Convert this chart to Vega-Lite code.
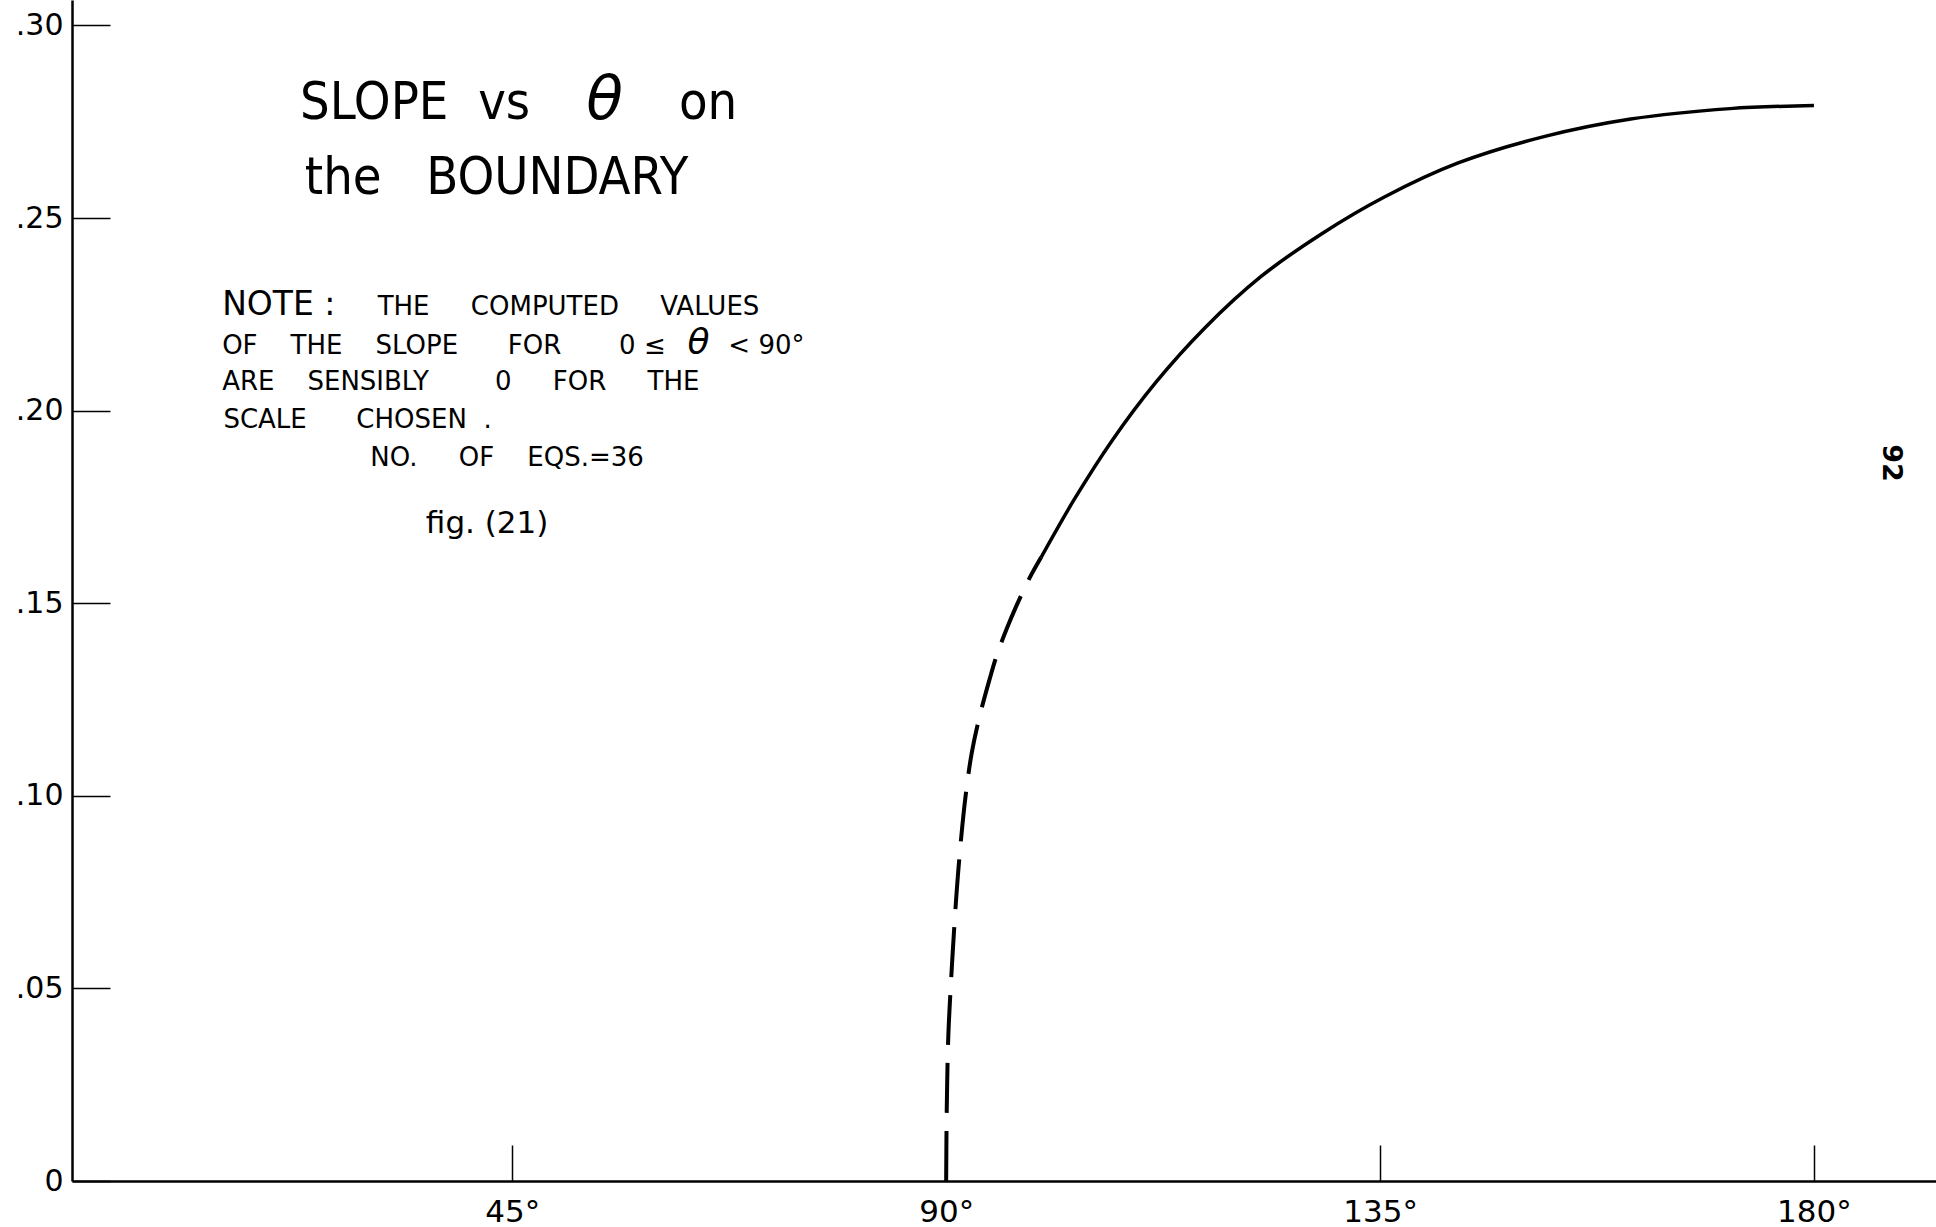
{
  "$schema": "https://vega.github.io/schema/vega-lite/v6.json",
  "width": 1864,
  "height": 1181,
  "autosize": "none",
  "padding": {"left": 72, "top": 0, "right": 0, "bottom": 46},
  "background": "white",
  "config": {
    "view": {"stroke": null},
    "font": "DejaVu Sans",
    "text": {"color": "black", "font": "DejaVu Sans", "align": "left", "baseline": "alphabetic"}
  },
  "datasets": {
    "curve": [
      {"theta": 90.0, "slope": 0.0, "part": "dashed"},
      {"theta": 90.06, "slope": 0.0181, "part": "dashed"},
      {"theta": 90.22, "slope": 0.0373, "part": "dashed"},
      {"theta": 90.47, "slope": 0.0502, "part": "dashed"},
      {"theta": 90.77, "slope": 0.063, "part": "dashed"},
      {"theta": 91.11, "slope": 0.0758, "part": "dashed"},
      {"theta": 91.54, "slope": 0.0886, "part": "dashed"},
      {"theta": 92.01, "slope": 0.0998, "part": "dashed"},
      {"theta": 92.65, "slope": 0.1111, "part": "dashed"},
      {"theta": 93.48, "slope": 0.1207, "part": "dashed"},
      {"theta": 94.51, "slope": 0.1303, "part": "dashed"},
      {"theta": 95.28, "slope": 0.1367, "part": "dashed"},
      {"theta": 96.24, "slope": 0.1431, "part": "dashed"},
      {"theta": 97.32, "slope": 0.1495, "part": "dashed"},
      {"theta": 98.54, "slope": 0.156, "part": "dashed"},
      {"theta": 99.85, "slope": 0.1619, "part": "dashed"},
      {"theta": 99.85, "slope": 0.1619, "part": "solid"},
      {"theta": 103.3, "slope": 0.177, "part": "solid"},
      {"theta": 107.2, "slope": 0.1922, "part": "solid"},
      {"theta": 111.7, "slope": 0.2072, "part": "solid"},
      {"theta": 116.8, "slope": 0.2214, "part": "solid"},
      {"theta": 122.6, "slope": 0.2347, "part": "solid"},
      {"theta": 129.0, "slope": 0.246, "part": "solid"},
      {"theta": 135.4, "slope": 0.2554, "part": "solid"},
      {"theta": 143.1, "slope": 0.2643, "part": "solid"},
      {"theta": 152.1, "slope": 0.2712, "part": "solid"},
      {"theta": 161.0, "slope": 0.2757, "part": "solid"},
      {"theta": 171.3, "slope": 0.2784, "part": "solid"},
      {"theta": 180.0, "slope": 0.2792, "part": "solid"}
    ]
  },
  "layer": [
    {
      "data": {"name": "curve"},
      "transform": [{"filter": "datum.part == 'dashed'"}],
      "mark": {"type": "line", "color": "black", "strokeWidth": 4, "strokeDash": [50, 18], "interpolate": "catmull-rom"},
      "encoding": {
        "x": {
          "field": "theta", "type": "quantitative",
          "scale": {"domain": [-0.66, 192.66], "nice": false, "zero": false},
          "axis": {
            "title": null, "grid": false,
            "values": [45, 90, 135, 180],
            "labelExpr": "datum.value + '°'",
            "domainColor": "black", "domainWidth": 2.5,
            "tickColor": "black", "tickWidth": 1.5, "tickSize": -36,
            "labelColor": "black", "labelFontSize": 31, "labelPadding": 52,
            "labelFont": "DejaVu Sans"
          }
        },
        "y": {
          "field": "slope", "type": "quantitative",
          "scale": {"domain": [0, 0.3066], "nice": false, "zero": false},
          "axis": {
            "title": null, "grid": false,
            "values": [0, 0.05, 0.1, 0.15, 0.2, 0.25, 0.3],
            "labelExpr": "datum.value == 0 ? '0' : replace(format(datum.value, '.2f'), '0.', '.')",
            "domainColor": "black", "domainWidth": 2.5,
            "tickColor": "black", "tickWidth": 1.5, "tickSize": -38,
            "labelColor": "black", "labelFontSize": 30, "labelPadding": 47,
            "labelFont": "DejaVu Sans"
          }
        }
      }
    },
    {
      "data": {"name": "curve"},
      "transform": [{"filter": "datum.part == 'solid'"}],
      "mark": {"type": "line", "color": "black", "strokeWidth": 3.5, "interpolate": "catmull-rom"},
      "encoding": {
        "x": {"field": "theta", "type": "quantitative"},
        "y": {"field": "slope", "type": "quantitative"}
      }
    },
    {
      "data": {"values": [{}]},
      "mark": {"type": "text", "text": "SLOPE\u00a0\u00a0vs", "font": "Liberation Sans Narrow, DejaVu Sans Condensed, DejaVu Sans", "fontSize": 52},
      "encoding": {"x": {"datum": 22.98, "type": "quantitative"}, "y": {"datum": 0.2758, "type": "quantitative"}}
    },
    {
      "data": {"values": [{}]},
      "mark": {"type": "text", "text": "θ", "fontStyle": "italic", "fontSize": 60},
      "encoding": {"x": {"datum": 52.68, "type": "quantitative"}, "y": {"datum": 0.2758, "type": "quantitative"}}
    },
    {
      "data": {"values": [{}]},
      "mark": {"type": "text", "text": "on", "font": "Liberation Sans Narrow, DejaVu Sans Condensed, DejaVu Sans", "fontSize": 52},
      "encoding": {"x": {"datum": 62.29, "type": "quantitative"}, "y": {"datum": 0.2758, "type": "quantitative"}}
    },
    {
      "data": {"values": [{}]},
      "mark": {"type": "text", "text": "the\u00a0\u00a0\u00a0BOUNDARY", "font": "Liberation Sans Narrow, DejaVu Sans Condensed, DejaVu Sans", "fontSize": 52},
      "encoding": {"x": {"datum": 23.49, "type": "quantitative"}, "y": {"datum": 0.2563, "type": "quantitative"}}
    },
    {
      "data": {"values": [{}]},
      "mark": {"type": "text", "text": "NOTE\u00a0:", "fontSize": 33},
      "encoding": {"x": {"datum": 14.91, "type": "quantitative"}, "y": {"datum": 0.2248, "type": "quantitative"}}
    },
    {
      "data": {"values": [{}]},
      "mark": {"type": "text", "text": "THE\u00a0\u00a0\u00a0\u00a0\u00a0COMPUTED\u00a0\u00a0\u00a0\u00a0\u00a0VALUES", "fontSize": 26},
      "encoding": {"x": {"datum": 31.04, "type": "quantitative"}, "y": {"datum": 0.2248, "type": "quantitative"}}
    },
    {
      "data": {"values": [{}]},
      "mark": {"type": "text", "text": "OF\u00a0\u00a0\u00a0\u00a0THE\u00a0\u00a0\u00a0\u00a0SLOPE\u00a0\u00a0\u00a0\u00a0\u00a0\u00a0FOR\u00a0\u00a0\u00a0\u00a0\u00a0\u00a0\u00a00\u00a0≤", "fontSize": 26},
      "encoding": {"x": {"datum": 14.91, "type": "quantitative"}, "y": {"datum": 0.2146, "type": "quantitative"}}
    },
    {
      "data": {"values": [{}]},
      "mark": {"type": "text", "text": "θ", "fontStyle": "italic", "fontSize": 36},
      "encoding": {"x": {"datum": 63.18, "type": "quantitative"}, "y": {"datum": 0.2146, "type": "quantitative"}}
    },
    {
      "data": {"values": [{}]},
      "mark": {"type": "text", "text": "<\u00a090°", "fontSize": 26},
      "encoding": {"x": {"datum": 67.41, "type": "quantitative"}, "y": {"datum": 0.2146, "type": "quantitative"}}
    },
    {
      "data": {"values": [{}]},
      "mark": {"type": "text", "text": "ARE\u00a0\u00a0\u00a0\u00a0SENSIBLY\u00a0\u00a0\u00a0\u00a0\u00a0\u00a0\u00a0\u00a00\u00a0\u00a0\u00a0\u00a0\u00a0FOR\u00a0\u00a0\u00a0\u00a0\u00a0THE", "fontSize": 26},
      "encoding": {"x": {"datum": 14.91, "type": "quantitative"}, "y": {"datum": 0.2053, "type": "quantitative"}}
    },
    {
      "data": {"values": [{}]},
      "mark": {"type": "text", "text": "SCALE\u00a0\u00a0\u00a0\u00a0\u00a0\u00a0CHOSEN\u00a0\u00a0.", "fontSize": 26},
      "encoding": {"x": {"datum": 15.04, "type": "quantitative"}, "y": {"datum": 0.1954, "type": "quantitative"}}
    },
    {
      "data": {"values": [{}]},
      "mark": {"type": "text", "text": "NO.\u00a0\u00a0\u00a0\u00a0\u00a0OF\u00a0\u00a0\u00a0\u00a0EQS.=36", "fontSize": 26},
      "encoding": {"x": {"datum": 30.28, "type": "quantitative"}, "y": {"datum": 0.1857, "type": "quantitative"}}
    },
    {
      "data": {"values": [{}]},
      "mark": {"type": "text", "text": "fig. (21)", "fontSize": 31},
      "encoding": {"x": {"datum": 36.04, "type": "quantitative"}, "y": {"datum": 0.1681, "type": "quantitative"}}
    },
    {
      "data": {"values": [{}]},
      "mark": {"type": "text", "text": "92", "align": "center", "baseline": "middle", "fontSize": 27, "angle": 90, "fontWeight": "bold"},
      "encoding": {"x": {"datum": 188.0, "type": "quantitative"}, "y": {"datum": 0.1864, "type": "quantitative"}}
    }
  ]
}
